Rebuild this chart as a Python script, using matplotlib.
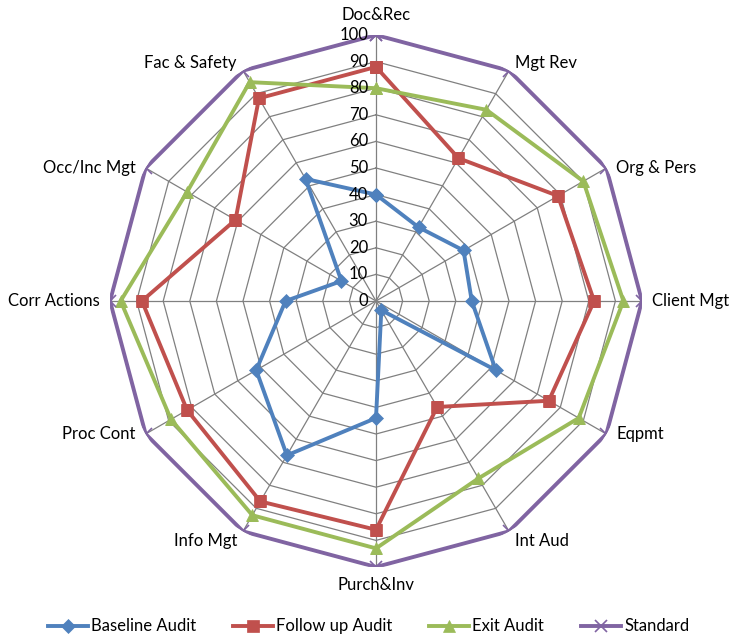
import numpy as np
import matplotlib
matplotlib.use("Agg")
import matplotlib.pyplot as plt

categories = ["Doc&Rec", "Mgt Rev", "Org & Pers", "Client Mgt", "Eqpmt", "Int Aud",
              "Purch&Inv", "Info Mgt", "Proc Cont", "Corr Actions", "Occ/Inc Mgt", "Fac & Safety"]
baseline = [40, 32, 38, 36, 52, 4, 44, 67, 52, 34, 15, 53]
follow_up = [88, 62, 79, 82, 75, 46, 86, 87, 82, 88, 61, 88]
exit_audit = [80, 83, 90, 93, 88, 77, 93, 93, 89, 96, 82, 95]
standard = [100] * 12
rings = list(range(0, 101, 10))

plt.rcParams['font.family'] = ['Lato', 'DejaVu Sans']

n = len(categories)
angles = np.linspace(0, 2 * np.pi, n, endpoint=False)
closed = np.append(angles, angles[0])

fig = plt.figure(figsize=(7.37, 6.38), dpi=100)
# centre at (376, 301) px, radius 266 px
ax = fig.add_axes([110 / 737, (638 - 301 - 266) / 638, 532 / 737, 532 / 638], projection='polar')
ax.set_theta_zero_location('N')
ax.set_theta_direction(-1)
ax.set_ylim(0, 100)
ax.grid(False)
ax.spines['polar'].set_visible(False)
ax.set_xticks([])
ax.set_yticks([])
ax.patch.set_alpha(0)

grid_col = '#808080'
for r in rings[1:]:
    ax.plot(closed, [r] * (n + 1), color=grid_col, lw=0.9, zorder=1)
for a in angles:
    ax.plot([a, a], [0, 100], color=grid_col, lw=0.9, zorder=1)

series = [
    ("Baseline Audit", baseline, '#4F81BD', 'D', 7),
    ("Follow up Audit", follow_up, '#C0504D', 's', 9),
    ("Exit Audit", exit_audit, '#9BBB59', '^', 9),
    ("Standard", standard, '#8064A2', 'x', 9),
]
for name, vals, col, mk, ms in series:
    v = list(vals) + [vals[0]]
    ax.plot(closed, v, color=col, lw=2.8, marker=mk, markersize=ms,
            markeredgewidth=1.2 if mk == 'x' else 0.5, markeredgecolor=col,
            label=name, zorder=3)

# radial value labels along the top spoke
for r in rings:
    ax.annotate(str(r), xy=(0, r), xytext=(-8, 0), textcoords='offset pixels',
                ha='right', va='center', fontsize=12, color='black')

# category labels
for a, lab in zip(angles, categories):
    s, c = np.sin(a), np.cos(a)
    if abs(s) < 0.1:
        ha = 'center'
        va = 'bottom' if c > 0 else 'top'
        off = (0, 12 if c > 0 else -10)
    else:
        ha = 'left' if s > 0 else 'right'
        va = 'center'
        off = (10 if s > 0 else -10, 0)
        if abs(c) > 0.8:
            off = (off[0] - (4 if s > 0 else -4), 8 if c > 0 else -10)
    ax.annotate(lab, xy=(a, 100), xytext=off, textcoords='offset pixels',
                ha=ha, va=va, fontsize=12, color='black')

fig.legend(loc='lower center', bbox_to_anchor=(0.5, -0.018), ncol=4, frameon=False,
           fontsize=12, handlelength=2.4, columnspacing=2.2, handletextpad=0.2)

fig.savefig("out.png", dpi=100)
